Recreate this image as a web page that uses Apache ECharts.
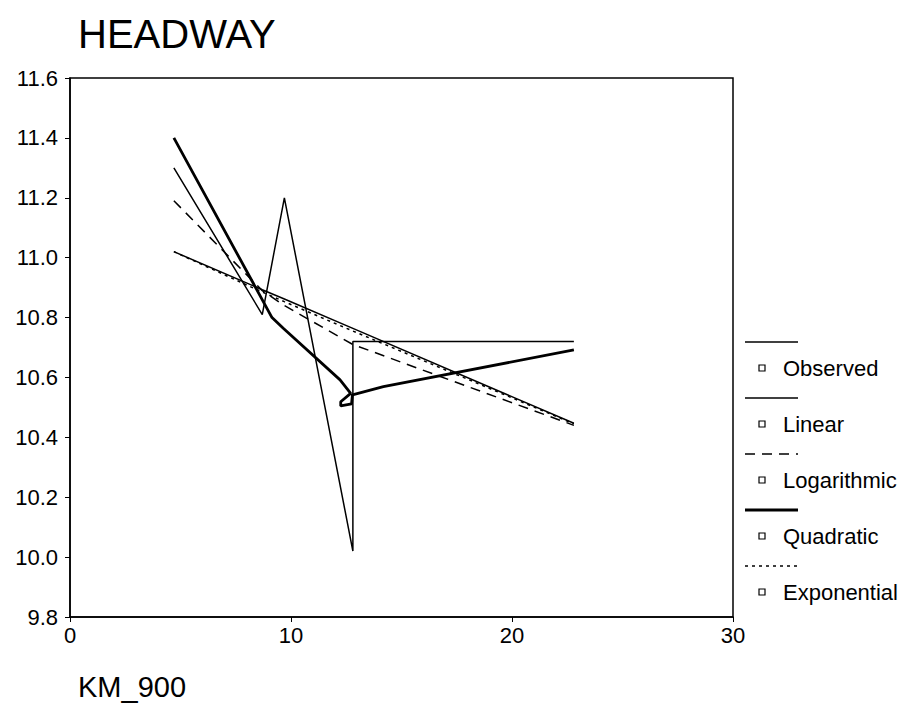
<!DOCTYPE html>
<html>
<head>
<meta charset="utf-8">
<script src="https://cdn.jsdelivr.net/npm/echarts@6/dist/echarts.min.js"></script>
<style>
html,body{margin:0;padding:0;background:#fff;}
#chart{width:914px;height:720px;}
</style>
</head>
<body>
<div id="chart"></div>
<script>
// ---- data ----
var chartTitle = 'HEADWAY';
var xAxisTitle = 'KM_900';
var seriesNames = ['Observed', 'Linear', 'Logarithmic', 'Quadratic', 'Exponential'];

var obsX = [4.7, 8.7, 9.7, 12.8, 12.8, 22.8];
var obsY = [11.30, 10.81, 11.20, 10.02, 10.72, 10.72];

var fitX = [4.7, 8.7, 9.7, 12.8, 22.8];
var linearY = [11.02, 10.893, 10.862, 10.764, 10.447];
var logY = [11.19, 10.89, 10.84, 10.71, 10.44];
var expY = [11.02, 10.885, 10.853, 10.755, 10.445];

var quadX = [4.7, 9.14, 9.65, 12.22, 12.7, 12.25, 12.25, 12.74, 12.78, 14.18, 22.8];
var quadY = [11.40, 10.80, 10.764, 10.592, 10.547, 10.519, 10.505, 10.512, 10.542, 10.569, 10.692];

var xTicks = [0, 10, 20, 30];
var yTicks = [9.8, 10.0, 10.2, 10.4, 10.6, 10.8, 11.0, 11.2, 11.4, 11.6];

function pairs(xs, ys) { return xs.map(function (x, i) { return [x, ys[i]]; }); }

var FONT = 'Liberation Sans, Arial, sans-serif';
var chart = echarts.init(document.getElementById('chart'), null, { renderer: 'svg' });

var lineDefs = [
  { name: seriesNames[0], data: pairs(obsX, obsY), width: 1.5, type: 'solid' },
  { name: seriesNames[1], data: pairs(fitX, linearY), width: 1.5, type: 'solid' },
  { name: seriesNames[2], data: pairs(fitX, logY), width: 1.5, type: [10, 7] },
  { name: seriesNames[3], data: pairs(quadX, quadY), width: 2.8, type: 'solid' },
  { name: seriesNames[4], data: pairs(fitX, expY), width: 1.5, type: [3, 4] }
];

// legend samples (line above, square + name below)
var legendX = 745, legendTop = 342, legendStep = 56;
var graphics = [];
lineDefs.forEach(function (d, i) {
  var y = legendTop + i * legendStep;
  graphics.push({
    type: 'line', shape: { x1: legendX, y1: y, x2: legendX + 53, y2: y },
    style: { stroke: '#000', lineWidth: d.width, lineDash: d.type === 'solid' ? null : d.type }
  });
  graphics.push({
    type: 'rect', shape: { x: legendX + 14, y: y + 23, width: 6, height: 6 },
    style: { fill: '#fff', stroke: '#000', lineWidth: 1.2 }
  });
  graphics.push({
    type: 'text', x: legendX + 38, y: y + 26,
    style: { text: d.name, fill: '#000', font: '22px ' + FONT, textVerticalAlign: 'middle', verticalAlign: 'middle' }
  });
});

chart.setOption({
  animation: false,
  backgroundColor: '#fff',
  title: [
    { text: chartTitle, left: 73, top: 9, textStyle: { fontFamily: FONT, fontSize: 40, fontWeight: 'normal', color: '#000' } },
    { text: xAxisTitle, left: 73, top: 667, textStyle: { fontFamily: FONT, fontSize: 29, fontWeight: 'normal', color: '#000' } }
  ],
  grid: { left: 70, right: 181, top: 78, bottom: 103, show: true, borderColor: '#000', borderWidth: 1.5, backgroundColor: 'transparent' },
  xAxis: {
    type: 'value', min: xTicks[0], max: xTicks[xTicks.length - 1], interval: 10,
    axisLine: { show: true, onZero: false, lineStyle: { color: '#000', width: 1.5 } },
    axisTick: { show: true, length: 5, lineStyle: { color: '#000' } },
    splitLine: { show: false },
    axisLabel: { color: '#000', fontFamily: FONT, fontSize: 22, margin: 7 }
  },
  yAxis: {
    type: 'value', min: yTicks[0], max: yTicks[yTicks.length - 1], interval: 0.2,
    axisLine: { show: true, onZero: false, lineStyle: { color: '#000', width: 1.5 } },
    axisTick: { show: true, length: 5, lineStyle: { color: '#000' } },
    splitLine: { show: false },
    axisLabel: { color: '#000', fontFamily: FONT, fontSize: 22, margin: 12, formatter: function (v) { return v.toFixed(1); } }
  },
  series: lineDefs.map(function (d) {
    return {
      name: d.name, type: 'line', data: d.data, showSymbol: false, symbol: 'none',
      lineStyle: { color: '#000', width: d.width, type: d.type }, z: d.width > 2 ? 3 : 2
    };
  }),
  graphic: graphics
});
</script>
</body>
</html>
